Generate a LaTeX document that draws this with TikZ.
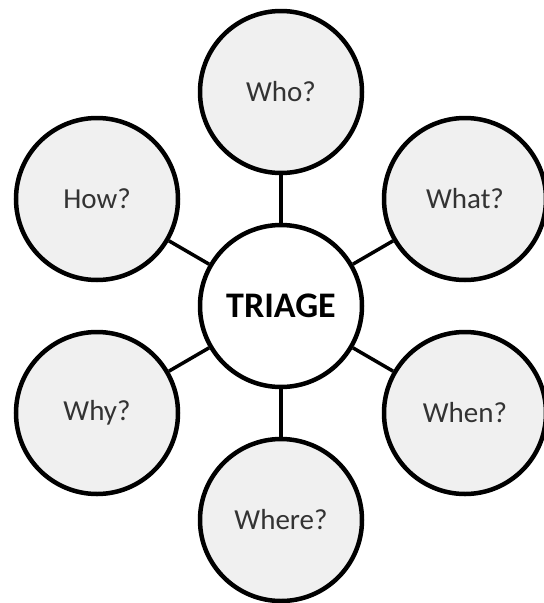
\documentclass[tikz,border=0pt]{standalone}
\usepackage{fontspec}
\setmainfont{Carlito}
\definecolor{bubblefill}{HTML}{F0F0F0}
\definecolor{bubbletext}{HTML}{333333}
\begin{document}
\begin{tikzpicture}[x=1pt,y=-1pt,
  bubble/.style={circle,draw=black,line width=4.5pt,fill=bubblefill,
    minimum size=162pt,inner sep=0pt,text=bubbletext,
    font=\fontsize{29}{35}\selectfont},
  hub/.style={bubble,fill=white,text=black,
    font=\fontsize{36}{43}\selectfont\bfseries},
  conn/.style={draw=black,line width=3.5pt}]
  \useasboundingbox (0,0) rectangle (544,603);
  % central topic and the six questions around it
  \node[hub]    (T)     at (281,306) {TRIAGE};
  \node[bubble] (who)   at (281,92)  {Who?};
  \node[bubble] (what)  at (465,199) {What?};
  \node[bubble] (when)  at (465,413) {When?};
  \node[bubble] (where) at (281,520) {Where?};
  \node[bubble] (why)   at (97,413)  {Why?};
  \node[bubble] (how)   at (97,199)  {How?};
  % spokes
  \foreach \q in {who,what,when,where,why,how}
    \draw[conn] (T) -- (\q);
\end{tikzpicture}
\end{document}
